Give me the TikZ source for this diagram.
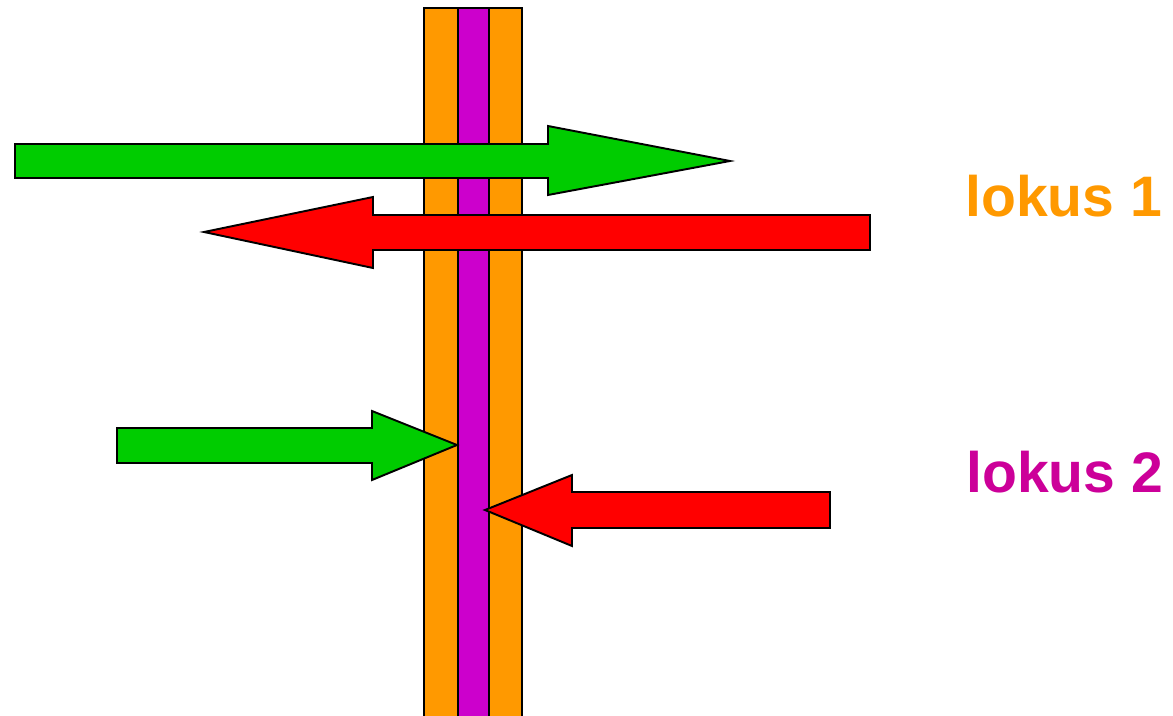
\documentclass[tikz,border=0pt]{standalone}
\usepackage{fontspec}
\setmainfont{Liberation Sans}
\usetikzlibrary{positioning}
\definecolor{lokusorange}{RGB}{255,153,0}
\definecolor{lokusmagenta}{RGB}{204,0,204}
\definecolor{lokuspink}{RGB}{204,0,153}
\definecolor{arrgreen}{RGB}{0,204,0}
\definecolor{arrred}{RGB}{255,0,0}

\begin{document}
\begin{tikzpicture}[
    x=0.02cm, y=-0.02cm,
    bar/.style={draw=black, line width=1.1pt},
    greenarr/.style={fill=arrgreen, draw=black, line width=1.1pt, line join=miter},
    redarr/.style={fill=arrred, draw=black, line width=1.1pt, line join=miter},
    lokuslabel/.style={font=\fontsize{32.5}{40}\selectfont\bfseries, anchor=base west, inner sep=0pt},
]
\useasboundingbox (0,0) rectangle (1173,716);
\clip (0,0) rectangle (1173,716);

% strands
\draw[bar, fill=lokusorange] (424,8) rectangle (458,740);
\draw[bar, fill=lokusmagenta] (458,8) rectangle (489,740);
\draw[bar, fill=lokusorange] (489,8) rectangle (522,740);

% locus 1 arrows
\draw[greenarr] (15,144) -- (548,144) -- (548,126) -- (730,161) -- (548,195) -- (548,178) -- (15,178) -- cycle;
\draw[redarr] (870,215) -- (373,215) -- (373,197) -- (204,232) -- (373,268) -- (373,250) -- (870,250) -- cycle;

% locus 2 arrows
\draw[greenarr] (117,428) -- (372,428) -- (372,411) -- (457,445) -- (372,480) -- (372,463) -- (117,463) -- cycle;
\draw[redarr] (830,492) -- (572,492) -- (572,475) -- (485,510) -- (572,546) -- (572,528) -- (830,528) -- cycle;

% labels
\node[lokuslabel, text=lokusorange] (lok1) at (965,217) {lokus 1};
\node[lokuslabel, text=lokuspink] (lok2) at (966,492) {lokus 2};

\end{tikzpicture}
\end{document}
